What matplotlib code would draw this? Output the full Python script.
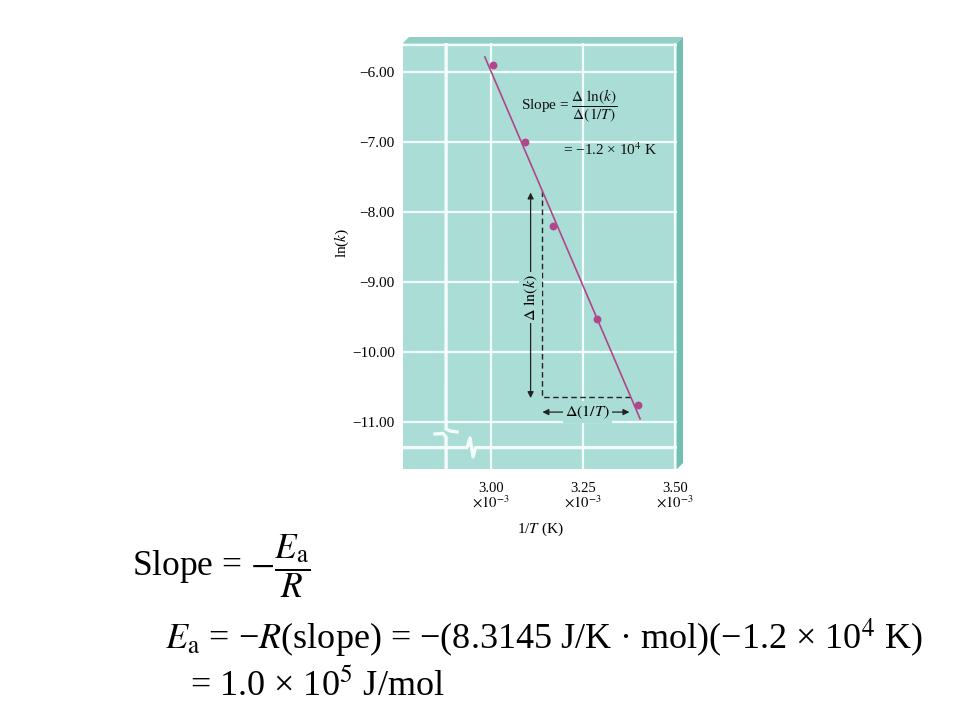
import numpy as np
import matplotlib
matplotlib.use("Agg")
import matplotlib.pyplot as plt
from matplotlib.patches import Polygon

plt.rcParams['font.family'] = ['Liberation Serif', 'DejaVu Serif']
plt.rcParams['mathtext.fontset'] = 'stix'

# data (1/T in units of 1e-3 K^-1)
inv_T = [3.005, 3.092, 3.168, 3.289, 3.400]
ln_k = [-5.90, -7.00, -8.21, -9.54, -10.76]

# drawn straight line through the points
fit_x = [2.984, 3.405]
fit_y = [-5.79, -10.96]

# slope triangle corners (x positions, y taken from the line)
tri_x = [3.14, 3.38]

x_ticks = [3.00, 3.25, 3.50]
x_ticklabels = ['3.00\n$\\times10^{-3}$', '3.25\n$\\times10^{-3}$', '3.50\n$\\times10^{-3}$']
y_ticks = [-6.0, -7.0, -8.0, -9.0, -10.0, -11.0]
y_ticklabels = ['\u22126.00', '\u22127.00', '\u22128.00', '\u22129.00', '\u221210.00', '\u221211.00']

panel = '#AADDD6'
grid_c = '#F4FCFB'
dot_c = '#B0468C'

xlim = (2.762, 3.505)
ylim = (-11.676, -5.59)
x_axis_pos = 2.879     # vertical axis line (broken)
y_axis_pos = -11.37    # horizontal axis line (broken)


def px(xp, yp):
    # pixel position in the picture -> data coordinates
    return 3.00 + (xp - 490.7) / 368.6, -6.0 - (yp - 71.7) / 70.0


fig = plt.figure(figsize=(9.6, 7.2), dpi=100)
ax = fig.add_axes([403 / 960, 1 - 469 / 720, 274 / 960, 426 / 720])
ax.set_facecolor(panel)
ax.set_xlim(xlim)
ax.set_ylim(ylim)
for s in ax.spines.values():
    s.set_visible(False)

# 3d edge of the panel
dx, dy = 6 / 368.6, 6 / 70.0
top = Polygon([(xlim[0], ylim[1]), (xlim[0] + dx, ylim[1] + dy), (xlim[1] + dx, ylim[1] + dy),
               (xlim[1], ylim[1])], closed=True, fc='#93CFC5', ec='none', clip_on=False, zorder=0)
right = Polygon([(xlim[1], ylim[1]), (xlim[1] + dx, ylim[1] + dy), (xlim[1] + dx, ylim[0] + dy),
                 (xlim[1], ylim[0])], closed=True, fc='#72BFB2', ec='none', clip_on=False, zorder=0)
ax.add_patch(top)
ax.add_patch(right)

# white grid
for yv in y_ticks + [-5.62]:
    ax.axhline(yv, color=grid_c, lw=1.6, zorder=1)
for xv in x_ticks:
    ax.axvline(xv, color=grid_c, lw=1.6, zorder=1)

# broken axis lines
ux = [x_axis_pos, px(446, 429)[0], px(450, 431)[0], px(457, 432)[0]]
uy = [ylim[1], px(446, 429)[1], px(450, 431)[1], px(457, 432)[1]]
ax.plot(ux, uy, color=grid_c, lw=2.4, zorder=1, solid_joinstyle='miter')
lx = [px(435, 434)[0], px(443, 433.5)[0], px(446, 437)[0], x_axis_pos]
ly = [px(435, 434)[1], px(443, 433.5)[1], px(446, 437)[1], ylim[0]]
ax.plot(lx, ly, color=grid_c, lw=2.4, zorder=1)
hx = [xlim[0], px(467, 447)[0], px(470, 438)[0], px(473, 457)[0], px(475.5, 447)[0], xlim[1]]
hy = [y_axis_pos, y_axis_pos, px(470, 438)[1], px(473, 457)[1], y_axis_pos, y_axis_pos]
ax.plot(hx, hy, color=grid_c, lw=2.4, zorder=1)

# data and line
ax.plot(fit_x, fit_y, color=dot_c, lw=1.2, zorder=3)
ax.scatter(inv_T, ln_k, s=32, color=dot_c, zorder=4, linewidths=0)

# slope triangle
tri_y = [fit_y[0] + (t - fit_x[0]) * (fit_y[1] - fit_y[0]) / (fit_x[1] - fit_x[0]) for t in tri_x]
ax.plot([tri_x[0], tri_x[0], tri_x[1]], [tri_y[0], tri_y[1], tri_y[1]],
        color='#222222', lw=1.0, ls=(0, (4, 2.5)), zorder=2)

arr_x = tri_x[0] - 0.032
ax.annotate('', xy=(arr_x, tri_y[0] - 0.02), xytext=(arr_x, tri_y[1] - 0.01),
            arrowprops=dict(arrowstyle='<|-|>', color='#222222', lw=0.9, mutation_scale=9,
                            shrinkA=0, shrinkB=0), zorder=2)
ax.text(arr_x, -9.22, '$\\Delta\\ \\ln(k)$', rotation=90, ha='center', va='center', fontsize=11.5,
        bbox=dict(fc=panel, ec='none', pad=1.5), zorder=3)

arr_y = tri_y[1] - 0.21
ax.annotate('', xy=(tri_x[0], arr_y), xytext=(tri_x[1] - 0.004, arr_y),
            arrowprops=dict(arrowstyle='<|-|>', color='#222222', lw=0.9, mutation_scale=9,
                            shrinkA=0, shrinkB=0), zorder=2)
ax.text((tri_x[0] + tri_x[1]) / 2 + 0.002, arr_y, '$\\Delta(1/T)$', ha='center', va='center',
        fontsize=11.5, bbox=dict(fc=panel, ec='none', pad=1.5), zorder=3)

ax.text(3.081, -6.50, 'Slope = $\\dfrac{\\Delta\\ \\ln(k)}{\\Delta(1/T)}$', ha='left', va='center',
        fontsize=11, color='#111111', zorder=3)
ax.text(3.195, -7.12, '= \u22121.2 \u00d7 10$^4$ K', ha='left', va='center', fontsize=11,
        color='#111111', zorder=3)

# ticks
ax.set_xticks(x_ticks)
ax.set_xticklabels(x_ticklabels, fontsize=10.5, linespacing=1.0)
ax.set_yticks(y_ticks)
ax.set_yticklabels(y_ticklabels, fontsize=11)
ax.tick_params(length=0, pad=6)
ax.tick_params(axis='x', pad=9)
ax.set_xlabel('1/$T$ (K)', fontsize=11, labelpad=7)
ax.set_ylabel('ln($k$)', fontsize=11)
ax.yaxis.set_label_coords(-0.19, 0.53)

# formulas under the chart
fig.text(132 / 960, 1 - 566 / 720, 'Slope = $-\\dfrac{E_{\\mathrm{a}}}{R}$', fontsize=25.5,
         ha='left', va='center')
fig.text(165 / 960, 1 - 638 / 720,
         '$E_{\\mathrm{a}}$ = \u2212$R$(slope) = \u2212(8.3145 J/K \u00b7 mol)(\u22121.2 \u00d7 10$^4$ K)',
         fontsize=26, ha='left', va='center')
fig.text(190 / 960, 1 - 686 / 720, '= 1.0 \u00d7 10$^5$ J/mol', fontsize=26, ha='left', va='center')

fig.savefig('out.png', dpi=100)
